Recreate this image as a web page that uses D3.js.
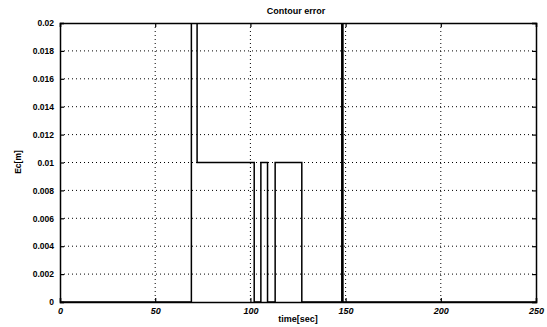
<!DOCTYPE html>
<html><head><meta charset="utf-8">
<script src="https://cdn.jsdelivr.net/npm/d3@7"></script>
<style>body{margin:0;background:#fff}svg{display:block}text{font-family:"Liberation Sans",Arial,sans-serif;font-weight:bold;fill:#000}</style>
</head><body>
<script>
const xTicks = [0, 50, 100, 150, 200, 250];
const yTicks = [0, 0.002, 0.004, 0.006, 0.008, 0.01, 0.012, 0.014, 0.016, 0.018, 0.02];
const yTickLabels = ["0","0.002","0.004","0.006","0.008","0.01","0.012","0.014","0.016","0.018","0.02"];
// step signal: time (s) and Ec (m)
const timeVals = [0, 69, 69, 72, 72, 102, 102, 105.5, 105.5, 109, 109, 113, 113, 127, 127, 148, 148, 148.6, 148.6, 250];
const ecVals   = [0, 0, 0.021, 0.021, 0.01, 0.01, 0, 0, 0.01, 0.01, 0, 0, 0.01, 0.01, 0, 0, 0.021, 0.021, 0, 0];

const W = 547, H = 327;
const m = {l: 60, r: 11, t: 23, b: 25};
const svg = d3.select("body").append("svg").attr("width", W).attr("height", H);
const x = d3.scaleLinear().domain([0, 250]).range([m.l, W - m.r]);
const y = d3.scaleLinear().domain([0, 0.02]).range([H - m.b, m.t]);

svg.append("defs").append("clipPath").attr("id","c").append("rect")
  .attr("x", m.l).attr("y", m.t).attr("width", W - m.l - m.r).attr("height", H - m.t - m.b);

// grid
const g = svg.append("g").attr("stroke", "#000").attr("stroke-width", 1).attr("stroke-dasharray", "1,3");
g.selectAll(".gx").data(xTicks.slice(1, -1)).join("line")
  .attr("x1", d => x(d)).attr("x2", d => x(d)).attr("y1", m.t).attr("y2", H - m.b);
g.selectAll(".gy").data(yTicks.slice(1, -1)).join("line")
  .attr("y1", d => y(d)).attr("y2", d => y(d)).attr("x1", m.l).attr("x2", W - m.r);

// axes
const ax = svg.append("g").attr("transform", `translate(0,${H - m.b})`)
  .call(d3.axisBottom(x).tickValues(xTicks).tickSize(-4).tickPadding(6).tickFormat(d3.format("d")));
ax.selectAll("text").attr("font-size", 9).attr("font-style", "italic");
const ay = svg.append("g").attr("transform", `translate(${m.l},0)`)
  .call(d3.axisLeft(y).tickValues(yTicks).tickSize(-4).tickPadding(6).tickFormat((d, i) => yTickLabels[i]));
ay.selectAll("text").attr("font-size", 8.5);
svg.append("g").attr("transform", `translate(0,${m.t})`)
  .call(d3.axisTop(x).tickValues(xTicks).tickSize(-4).tickFormat(""));
svg.append("g").attr("transform", `translate(${W - m.r},0)`)
  .call(d3.axisRight(y).tickValues(yTicks).tickSize(-4).tickFormat(""));
svg.selectAll(".domain").attr("stroke", "#000").attr("stroke-width", 1.5);
svg.selectAll(".tick line").attr("stroke", "#000").attr("stroke-width", 1.2);

// data line
const pts = timeVals.map((t, i) => [t, ecVals[i]]);
svg.append("path").datum(pts).attr("clip-path", "url(#c)")
  .attr("fill", "none").attr("stroke", "#000").attr("stroke-width", 1.5)
  .attr("d", d3.line().x(d => x(d[0])).y(d => y(d[1])));

// labels
svg.append("text").attr("x", 296).attr("y", 14).attr("text-anchor", "middle").attr("font-size", 9).text("Contour error");
svg.append("text").attr("x", 298).attr("y", 322).attr("text-anchor", "middle").attr("font-size", 9).text("time[sec]");
svg.append("text").attr("transform", "translate(21,162) rotate(-90)").attr("text-anchor", "middle").attr("font-size", 8.5).text("Ec[m]");
</script>
</body></html>
